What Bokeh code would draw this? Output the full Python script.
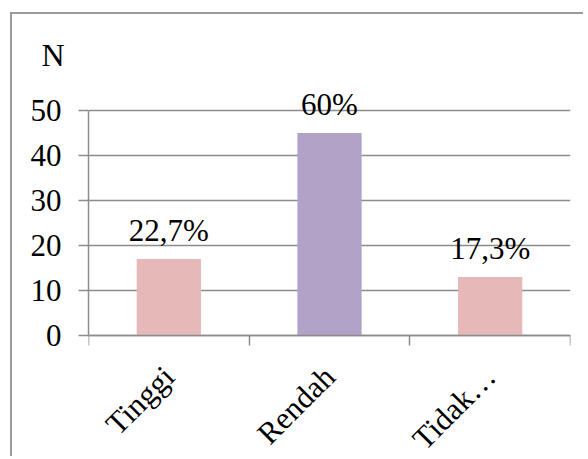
import math
from bokeh.plotting import figure
from bokeh.models import Range1d, FixedTicker, ColumnDataSource
from bokeh.core.properties import value
from bokeh.embed import file_html
from bokeh.resources import INLINE

# ---- data ----
categories = ["Tinggi", "Rendah", "Tidak…"]
counts = [17, 45, 13]
pct_labels = ["22,7%", "60%", "17,3%"]
bar_colors = ["#E6B9B8", "#B3A2C7", "#E6B9B8"]
y_ticks = [0, 10, 20, 30, 40, 50]
y_title = "N"

FONT = "Liberation Serif"
GRAY = "#8c8c8c"

xs = [i + 0.5 for i in range(len(categories))]
src = ColumnDataSource(dict(x=xs, top=counts, label=pct_labels, color=bar_colors))

p = figure(width=573, height=444, output_backend="svg", toolbar_location=None,
           x_range=Range1d(0, len(categories)), y_range=Range1d(-27.33, 56),
           min_border_left=76, min_border_right=15, min_border_top=69,
           min_border_bottom=0, title=y_title)
p.styles = {"margin-left": "10px", "margin-top": "12px",
            "border-left": "2px solid #9a9a9a", "border-top": "2px solid #9a9a9a"}
p.outline_line_color = None
p.background_fill_color = "white"
p.border_fill_color = "white"

p.title.align = "left"
p.title.offset = -47
p.title.text_font = FONT
p.title.text_font_size = "32px"
p.title.text_font_style = "normal"
p.title.text_color = "black"
p.title.standoff = 22

p.vbar(x="x", top="top", width=0.4, bottom=0, fill_color="color", line_color=None, source=src)
p.text(x="x", y="top", text="label", source=src, text_align="center",
       text_baseline="alphabetic", y_offset=-29, text_font=value(FONT),
       text_font_size="31px", text_color="black")

# y axis
ya = p.yaxis[0]
ya.ticker = FixedTicker(ticks=y_ticks, minor_ticks=[])
ya.bounds = (0, 50)
ya.axis_line_color = GRAY
ya.axis_line_width = 1.5
ya.major_tick_line_color = GRAY
ya.major_tick_line_width = 1.5
ya.major_tick_out = 10
ya.major_tick_in = 0
ya.minor_tick_line_color = None
ya.major_label_text_font = FONT
ya.major_label_text_font_size = "31px"
ya.major_label_text_color = "black"
ya.major_label_standoff = 17

# x axis (drawn at y = 0 inside the frame)
xa = p.xaxis[0]
xa.fixed_location = 0
xa.ticker = FixedTicker(ticks=xs, minor_ticks=list(range(len(categories) + 1)))
xa.major_label_overrides = {x: c for x, c in zip(xs, categories)}
xa.major_label_orientation = math.pi / 4
xa.axis_line_color = GRAY
xa.axis_line_width = 1.5
xa.major_tick_line_color = None
xa.major_tick_out = 0
xa.major_tick_in = 0
xa.minor_tick_line_color = GRAY
xa.minor_tick_line_width = 1.5
xa.minor_tick_out = 10
xa.minor_tick_in = 0
xa.major_label_text_font = FONT
xa.major_label_text_font_size = "31px"
xa.major_label_text_color = "black"
xa.major_label_standoff = 26

p.xgrid.visible = False
p.ygrid[0].ticker = FixedTicker(ticks=y_ticks)
p.ygrid[0].grid_line_color = GRAY
p.ygrid[0].grid_line_width = 1.5

open("out.html", "w").write(file_html(p, INLINE))
